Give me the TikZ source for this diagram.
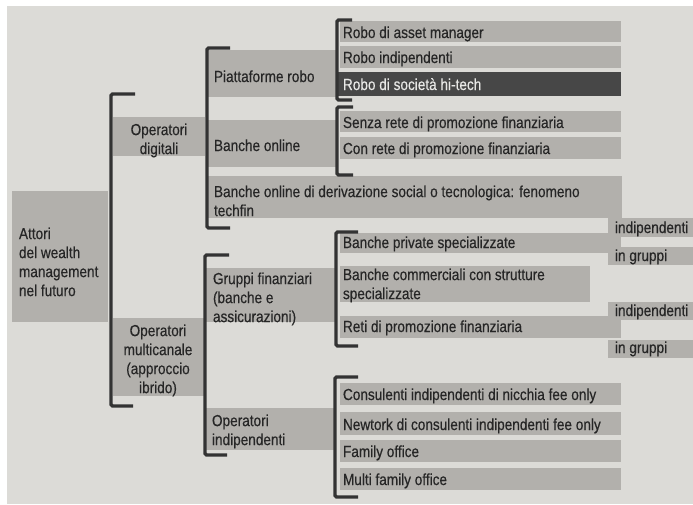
\documentclass[tikz,border=0pt]{standalone}
\usepackage{fontspec}
\setmainfont{Liberation Sans}[FakeStretch=0.85,FakeBold=0.4]
\definecolor{pagebg}{HTML}{DCDBD7}
\definecolor{bandc}{HTML}{B2B0AC}
\definecolor{darkrow}{HTML}{474747}
\definecolor{inkc}{HTML}{262626}
\definecolor{lightink}{HTML}{E8E8E6}
\definecolor{brk}{HTML}{333333}
\begin{document}
\begin{tikzpicture}[x=1pt,y=-1pt,
  txt/.style={inner sep=0pt, outer sep=0pt, text=inkc, font=\fontsize{16}{19}\selectfont},
  lbl/.style={txt, anchor=base west},
  multi/.style={txt, anchor=north west, align=left},
  multic/.style={txt, anchor=north, align=center},
  brack/.style={draw=brk, line width=3.3pt, rounded corners=1.5pt},
  band/.style={fill=bandc},
  dark/.style={fill=darkrow}]
\useasboundingbox (0,0) rectangle (693,504);
\fill[white] (0,0) rectangle (693,504);
\fill[pagebg] (7,6) rectangle (693,504);

% ---- level 1
\fill[band] (12,191) rectangle (108,322);
\node[multi] (attori) at (19,227.5) {Attori\\del wealth\\management\\nel futuro};

% ---- level 2
\fill[band] (113,117) rectangle (205,156);
\node[multic] (opdig) at (159,123.5) {Operatori\\digitali};
\fill[band] (113,318) rectangle (205,396);
\node[multic] (opmulti) at (158,324.5) {Operatori\\multicanale\\(approccio\\ibrido)};

% ---- level 3
\fill[band] (207,50) rectangle (337,97);
\node[lbl] (piatt) at (214,82) {Piattaforme robo};
\fill[band] (207,120) rectangle (337,167);
\node[lbl] (bonl) at (214,151) {Banche online};
\fill[band] (207,176) rectangle (622,218);
\node[multi] (bsoc) at (214,185.5) {Banche online di derivazione social o tecnologica: fenomeno\\techfin};
\fill[band] (205,268) rectangle (335,322);
\node[multi] (gruppi) at (213,272.5) {Gruppi finanziari\\(banche e\\assicurazioni)};
\fill[band] (205,408) rectangle (335,450);
\node[multi] (opind) at (212,414.5) {Operatori\\indipendenti};

% ---- level 4 rows
\fill[band] (340,21) rectangle (621,42);
\node[lbl] (r1) at (343,38) {Robo di asset manager};
\fill[band] (340,46) rectangle (621,68);
\node[lbl] (r2) at (343,63) {Robo indipendenti};
\fill[dark] (337,72) rectangle (621,96);
\node[lbl, text=lightink] (r3) at (343,90) {Robo di società hi-tech};

\fill[band] (340,111) rectangle (621,132);
\node[lbl] (r4) at (343,128) {Senza rete di promozione finanziaria};
\fill[band] (340,137) rectangle (621,159);
\node[lbl] (r5) at (343,154) {Con rete di promozione finanziaria};

\fill[band] (340,233) rectangle (621,253);
\node[lbl] (r6) at (343,248) {Banche private specializzate};
\fill[band] (608,218) rectangle (693,237);
\node[lbl] (ind1) at (615,233) {indipendenti};
\fill[band] (608,247) rectangle (693,265);
\node[lbl] (grp1) at (615,261) {in gruppi};

\fill[band] (340,266) rectangle (590,302);
\node[multi] (r7) at (343,268.5) {Banche commerciali con strutture\\specializzate};

\fill[band] (340,316) rectangle (621,338);
\node[lbl] (r8) at (343,332) {Reti di promozione finanziaria};
\fill[band] (608,302) rectangle (693,320);
\node[lbl] (ind2) at (615,316) {indipendenti};
\fill[band] (608,340) rectangle (693,358);
\node[lbl] (grp2) at (615,353) {in gruppi};

\fill[band] (340,383) rectangle (621,405);
\node[lbl] (r9) at (343,400) {Consulenti indipendenti di nicchia fee only};
\fill[band] (340,412) rectangle (621,435);
\node[lbl] (r10) at (343,430) {Newtork di consulenti indipendenti fee only};
\fill[band] (340,440) rectangle (621,462);
\node[lbl] (r11) at (343,457) {Family office};
\fill[band] (340,468) rectangle (621,490);
\node[lbl] (r12) at (343,485) {Multi family office};

% ---- brackets
\draw[brack] (135,94) -- (111,94) -- (111,406) -- (133,406);
\draw[brack] (230,48) -- (207,48) -- (207,228) -- (230,228);
\draw[brack] (229,255) -- (205,255) -- (205,455) -- (227,455);
\draw[brack] (352,20) -- (337,20) -- (337,100) -- (352,100);
\draw[brack] (353,107) -- (337,107) -- (337,175) -- (353,175);
\draw[brack] (358,232) -- (336,232) -- (336,346) -- (358,346);
\draw[brack] (358,377) -- (335,377) -- (335,497) -- (358,497);
\end{tikzpicture}
\end{document}
